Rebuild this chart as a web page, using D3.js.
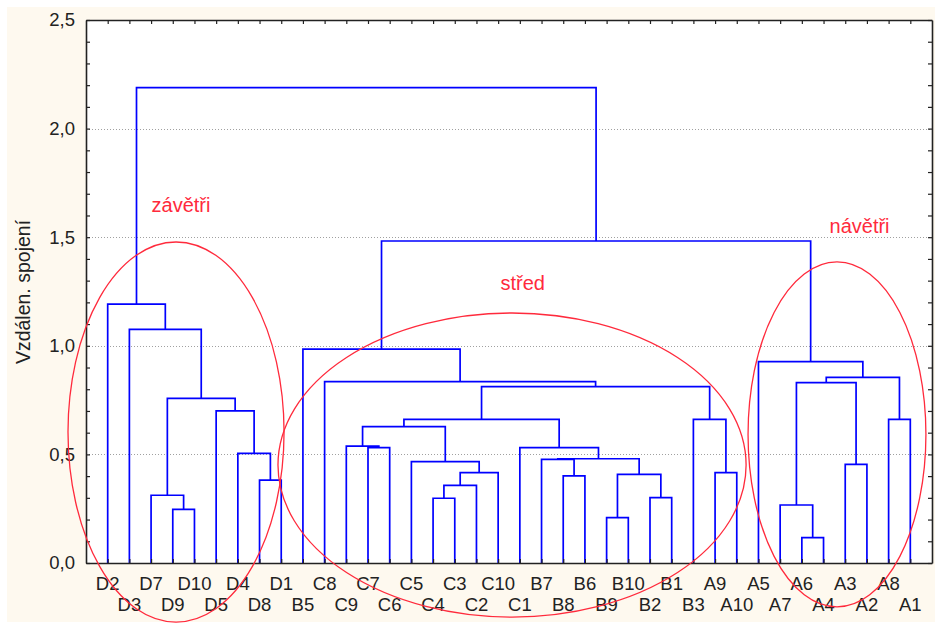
<!DOCTYPE html>
<html><head><meta charset="utf-8">
<script src="https://cdn.jsdelivr.net/npm/d3@7"></script>
<style>
body{margin:0;background:#fff}
svg{display:block}
text{font-family:"Liberation Sans",Arial,sans-serif}
</style>
</head><body>
<svg id="c" width="935" height="623"></svg>
<script>
// ---- data ----
const leaves = ["D2","D3","D7","D9","D10","D5","D4","D8","D1","B5",
  "C8","C9","C7","C6","C5","C4","C3","C2","C10","C1",
  "B7","B8","B6","B9","B10","B2","B1","B3","A9","A10",
  "A5","A7","A6","A4","A3","A2","A8","A1"];
// linkage: [childA, childB, height]; numbers refer to earlier merges
const merges = [
  ["D9","D10",0.247],   //0
  ["D7",0,0.312],       //1
  ["D8","D1",0.382],    //2
  ["D4",2,0.505],       //3
  ["D5",3,0.700],       //4
  [1,4,0.758],          //5
  ["D3",5,1.076],       //6
  ["D2",6,1.192],       //7
  ["C4","C3",0.298],    //8
  [8,"C2",0.357],       //9
  [9,"C10",0.416],      //10
  ["C5",10,0.4665],     //11
  ["C7","C6",0.531],    //12
  ["C9",12,0.538],      //13
  [13,11,0.628],        //14
  ["B8","B6",0.401],    //15
  ["B7",15,0.477],      //16
  ["B9","B10",0.209],   //17
  ["B2","B1",0.301],    //18
  [17,18,0.408],        //19
  [16,19,0.480],        //20
  ["C1",20,0.531],      //21
  [14,21,0.6615],       //22
  ["A9","A10",0.416],   //23
  ["B3",23,0.6615],     //24
  [22,24,0.812],        //25
  ["C8",25,0.835],      //26
  ["B5",26,0.985],      //27
  ["A6","A4",0.1165],   //28
  ["A7",28,0.267],      //29
  ["A3","A2",0.454],    //30
  [29,30,0.830],        //31
  ["A8","A1",0.6615],   //32
  [31,32,0.855],        //33
  ["A5",33,0.927],      //34
  [27,34,1.4825],       //35
  [7,35,2.189]          //36
];
const yMajorTicks = [0,0.5,1.0,1.5,2.0,2.5];
const yTitle = "Vzdálen. spojení";
// annotations (in data units: leaf index / linkage distance)
const groupNames = ["závětři","střed","návětři"];
const groupLabelAt = [[3.38,1.616],[19.13,1.257],[34.66,1.519]];
const groupEllipse = [[3.15,0.603,4.98,0.875],[18.64,0.451,10.79,0.70],[33.62,0.592,4.10,0.794]];

// ---- layout ----
const M={left:86,right:932,top:20,bottom:563};
const svg=d3.select("#c");
const x=d3.scaleLinear().domain([-1,leaves.length]).range([M.left,M.right]);
const y=d3.scaleLinear().domain([0,2.5]).range([M.bottom,M.top]);

svg.append("rect").attr("x",7).attr("y",7).attr("width",928).attr("height",615).attr("fill","#fef9ef");
svg.append("rect").attr("x",M.left).attr("y",M.top).attr("width",M.right-M.left).attr("height",M.bottom-M.top).attr("fill","#fff");

// grid
svg.append("g").selectAll("line").data(yMajorTicks.filter(d=>d>0&&d<2.5)).join("line")
  .attr("x1",M.left).attr("x2",M.right).attr("y1",d=>Math.round(y(d))+0.5).attr("y2",d=>Math.round(y(d))+0.5)
  .attr("stroke","#a0a0a0").attr("stroke-width",1).attr("stroke-dasharray","1,2");

// dendrogram
const nodes={};
leaves.forEach((l,i)=>nodes[l]={x:x(i),h:0});
const get=c=>typeof c==="number"?nodes["#"+c]:nodes[c];
const links=[];
merges.forEach((m,k)=>{
  const a=get(m[0]), b=get(m[1]);
  links.push({a,b,h:m[2]});
  nodes["#"+k]={x:(a.x+b.x)/2,h:m[2]};
});
svg.append("g").selectAll("path").data(links).join("path")
  .attr("d",d=>`M${d.a.x},${y(d.a.h)}V${y(d.h)}H${d.b.x}V${y(d.b.h)}`)
  .attr("fill","none").attr("stroke","#0000ff").attr("stroke-width",1.7);

// axes
const fmt=d=>{const r=Math.round(d*10)/10; return yMajorTicks.some(t=>Math.abs(t-r)<1e-6)?d3.format(".1f")(r).replace(".",","):"";};
const yt=d3.range(0,26).map(i=>i/10);
const axL=svg.append("g").attr("transform",`translate(${M.left},0)`)
  .call(d3.axisLeft(y).tickValues(yt).tickSizeInner(-4).tickSizeOuter(0).tickPadding(11).tickFormat(fmt));
const axR=svg.append("g").attr("transform",`translate(${M.right},0)`)
  .call(d3.axisRight(y).tickValues(yt).tickSizeInner(-4).tickSizeOuter(0).tickFormat(""));
const li=d3.range(leaves.length);
const axB=svg.append("g").attr("transform",`translate(0,${M.bottom})`)
  .call(d3.axisBottom(x).tickValues(li).tickSizeInner(-4).tickSizeOuter(0).tickFormat(""));
const axT=svg.append("g").attr("transform",`translate(0,${M.top})`)
  .call(d3.axisTop(x).tickValues(li).tickSizeInner(-4).tickSizeOuter(0).tickFormat(""));
[axL,axR,axB,axT].forEach(a=>{
  a.select(".domain").attr("stroke","#222").attr("stroke-width",1.6);
  a.selectAll(".tick line").attr("stroke","#222").attr("stroke-width",1.2);
});
axL.selectAll("text").attr("font-size",18.5).attr("fill","#222").attr("font-family","Liberation Sans, Arial, sans-serif");

// x labels (two rows)
svg.append("g").selectAll("text").data(leaves).join("text")
  .attr("x",(d,i)=>x(i)).attr("y",(d,i)=>M.bottom+(i%2===0?27:48))
  .attr("text-anchor","middle").attr("font-size",18.5).attr("fill","#222").text(d=>d);

// y title
svg.append("text").attr("transform",`translate(30,292) rotate(-90)`)
  .attr("text-anchor","middle").attr("font-size",19.5).attr("fill","#222").text(yTitle);

// annotations
const red="#ff2a3c";
svg.append("g").selectAll("ellipse").data(groupEllipse).join("ellipse")
  .attr("cx",d=>x(d[0])).attr("cy",d=>y(d[1]))
  .attr("rx",d=>x(d[0]+d[2])-x(d[0])).attr("ry",d=>y(d[1]-d[3])-y(d[1]))
  .attr("fill","none").attr("stroke",red).attr("stroke-width",1.3);
svg.append("g").selectAll("text").data(groupNames).join("text")
  .attr("x",(d,i)=>x(groupLabelAt[i][0])).attr("y",(d,i)=>y(groupLabelAt[i][1]))
  .attr("text-anchor","middle").attr("font-size",20).attr("fill",red).text(d=>d);
</script>
</body></html>
